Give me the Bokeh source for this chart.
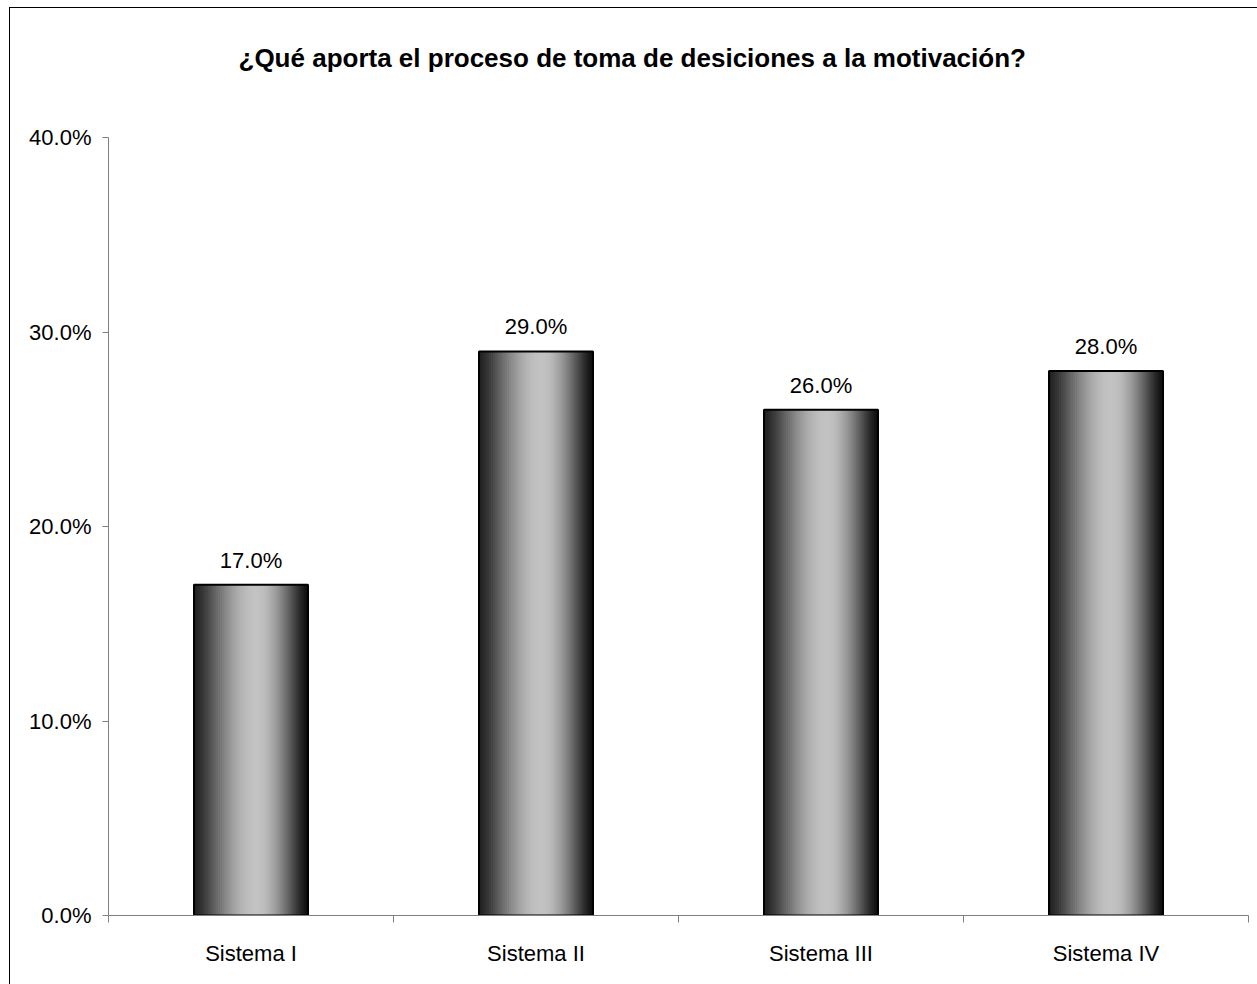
import math
from bokeh.plotting import figure
from bokeh.models import Range1d, FixedTicker, NumeralTickFormatter, ColumnDataSource
from bokeh.embed import file_html
from bokeh.resources import INLINE

categories = ["Sistema I", "Sistema II", "Sistema III", "Sistema IV"]
values = [0.17, 0.29, 0.26, 0.28]
value_labels = ["17.0%", "29.0%", "26.0%", "28.0%"]
y_ticks = [0.0, 0.1, 0.2, 0.3, 0.4]
title_text = "¿Qué aporta el proceso de toma de desiciones a la motivación?"

FONT = "Liberation Sans"
BAR_W = 0.4
N = 57

def shade(t):
    peak = 0.55
    if t <= peak:
        u = t / peak
        lo = 32
    else:
        u = (1 - t) / (1 - peak)
        lo = 14
    v = lo + (194 - lo) * math.sin(u * math.pi / 2) ** 1.3
    v = int(round(v))
    return "#%02x%02x%02x" % (v, v, v)

centers = [i + 0.5 for i in range(len(categories))]

sx, sy, sc = [], [], []
for c, v in zip(centers, values):
    for k in range(N):
        t = (k + 0.5) / N
        sx.append(c - BAR_W / 2 + t * BAR_W)
        sy.append(v)
        sc.append(shade(t))
strips = ColumnDataSource(dict(x=sx, top=sy, color=sc))
bars = ColumnDataSource(dict(x=centers, top=values, label=value_labels))

p = figure(width=1248, height=977, x_range=Range1d(0, 4), y_range=Range1d(0, 0.4),
           output_backend="svg", toolbar_location=None,
           min_border_left=98, min_border_right=10, min_border_top=129, min_border_bottom=70)
p.styles = {"border-top": "1px solid black", "border-left": "1px solid black",
            "margin-left": "9px", "margin-top": "7px"}

p.title.text = title_text
p.title.text_font = FONT
p.title.text_font_size = "26px"
p.title.text_font_style = "bold"
p.title.text_color = "black"
p.title.align = "left"
p.title.offset = 130
p.title.vertical_align = "top"
p.title.padding = (0, 0, 0, 63)
p.title.standoff = 0

p.outline_line_color = None
p.xgrid.grid_line_color = None
p.ygrid.grid_line_color = None

p.vbar(x="x", top="top", bottom=0, width=BAR_W / N * 1.15, source=strips,
       fill_color="color", line_color=None)
p.vbar(x="x", top="top", bottom=0, width=BAR_W, source=bars,
       fill_alpha=0, line_color="black", line_width=2)
p.text(x="x", y="top", text="label", source=bars, y_offset=-12,
       text_align="center", text_baseline="bottom",
       text_font={"value": FONT}, text_font_size={"value": "22px"}, text_color="black")

xa = p.xaxis[0]
xa.ticker = FixedTicker(ticks=centers, minor_ticks=[0, 1, 2, 3, 4])
xa.major_label_overrides = {c: n for c, n in zip(centers, categories)}
xa.major_tick_out = 0
xa.major_tick_in = 0
xa.minor_tick_out = 7
xa.minor_tick_in = 0
xa.minor_tick_line_color = "#808080"
xa.axis_line_color = "#808080"
xa.major_label_text_font = FONT
xa.major_label_text_font_size = "22px"
xa.major_label_text_color = "black"
xa.major_label_standoff = 18

ya = p.yaxis[0]
ya.ticker = FixedTicker(ticks=y_ticks, minor_ticks=[])
ya.formatter = NumeralTickFormatter(format="0.0%")
ya.major_tick_out = 6
ya.major_tick_in = 0
ya.major_tick_line_color = "#808080"
ya.axis_line_color = "#808080"
ya.major_label_text_font = FONT
ya.major_label_text_font_size = "22px"
ya.major_label_text_color = "black"
ya.major_label_standoff = 11

open("out.html", "w").write(file_html(p, INLINE))
